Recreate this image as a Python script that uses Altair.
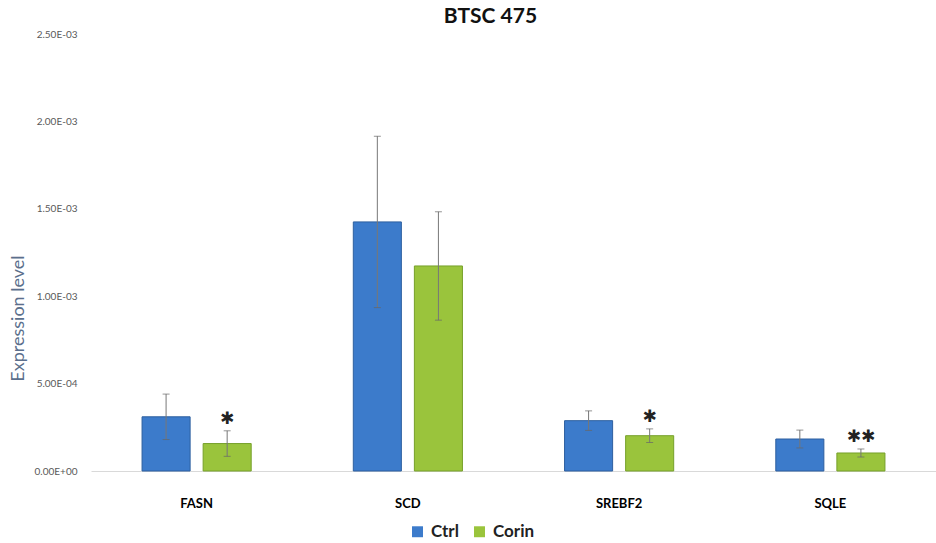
import altair as alt
import pandas as pd

# Expression data per gene (mean and error) for each condition
genes = ["FASN", "SCD", "SREBF2", "SQLE"]
groups = ["Ctrl", "Corin"]
ctrl_mean = [3.10e-4, 1.425e-3, 2.88e-4, 1.83e-4]
ctrl_err = [1.30e-4, 4.90e-4, 5.6e-5, 5.1e-5]
corin_mean = [1.57e-4, 1.173e-3, 2.02e-4, 1.03e-4]
corin_err = [7.3e-5, 3.10e-4, 3.9e-5, 2.3e-5]
corin_sig = ["\u2731", "", "\u2731", "\u2731\u2731"]
tick_labels = ["0.00E+00", "5.00E-04", "1.00E-03", "1.50E-03", "2.00E-03", "2.50E-03"]

rows = []
for i, g in enumerate(genes):
    rows.append({"gene": g, "group": "Ctrl", "mean": ctrl_mean[i], "err": ctrl_err[i], "sig": ""})
    rows.append({"gene": g, "group": "Corin", "mean": corin_mean[i], "err": corin_err[i], "sig": corin_sig[i]})
df = pd.DataFrame(rows)
df["lo"] = df["mean"] - df["err"]
df["hi"] = df["mean"] + df["err"]

label_expr = "[" + ",".join("'%s'" % t for t in tick_labels) + "][round(datum.value / 0.0005)]"

x_enc = alt.X("gene:N", sort=genes,
              scale=alt.Scale(paddingInner=0, paddingOuter=0),
              axis=alt.Axis(title=None, labelAngle=0, ticks=False, grid=False,
                            labelFont="Lato", labelFontWeight="bold", labelFontSize=13,
                            labelColor="#000000", labelPadding=26,
                            domainColor="#d9d9d9", domainWidth=1))
x_plain = alt.X("gene:N", sort=genes)
xo_enc = alt.XOffset("group:N", sort=groups,
                     scale=alt.Scale(paddingInner=0.213, paddingOuter=0.836))
y_scale = alt.Scale(domain=[0, 0.0025], nice=False)

bars = alt.Chart(df).mark_bar(strokeWidth=1).encode(
    x=x_enc,
    xOffset=xo_enc,
    y=alt.Y("mean:Q", scale=y_scale,
            axis=alt.Axis(title="Expression level", values=[0, 0.0005, 0.001, 0.0015, 0.002, 0.0025],
                          labelExpr=label_expr, grid=False, domain=False, ticks=False,
                          labelFont="Lato", labelFontSize=10, labelColor="#595959", labelPadding=14,
                          titleFont="Lato", titleFontSize=18, titleFontWeight="normal",
                          titleColor="#5b6f8c", titleX=-73, titleY=284, titleAngle=-90,
                          titleAlign="center", titleBaseline="middle")),
    color=alt.Color("group:N", sort=groups,
                    scale=alt.Scale(domain=groups, range=["#3c7bcb", "#9ac43c"]),
                    legend=alt.Legend(title=None, orient="none", direction="horizontal",
                                      legendX=318, legendY=489, symbolType="square",
                                      symbolSize=120, symbolStrokeWidth=0,
                                      labelFont="Lato", labelFontWeight="bold", labelFontSize=17,
                                      labelColor="#222222", columnPadding=12, labelOffset=5)),
    stroke=alt.Stroke("group:N", sort=groups,
                      scale=alt.Scale(domain=groups, range=["#2d5f9f", "#76a02a"]), legend=None),
)

err_rule = alt.Chart(df).mark_rule(color="#777777", strokeWidth=1).encode(
    x=x_plain, xOffset=xo_enc,
    y=alt.Y("lo:Q", scale=y_scale), y2="hi:Q",
)
cap_hi = alt.Chart(df).mark_tick(color="#666666", thickness=1, size=7).encode(
    x=x_plain, xOffset=xo_enc, y=alt.Y("hi:Q", scale=y_scale),
)
cap_lo = alt.Chart(df).mark_tick(color="#666666", thickness=1, size=7).encode(
    x=x_plain, xOffset=xo_enc, y=alt.Y("lo:Q", scale=y_scale),
)
stars = alt.Chart(df).mark_text(font="DejaVu Sans", fontSize=17, fontWeight="bold",
                                color="#222222", baseline="bottom", dy=-3).encode(
    x=x_plain, xOffset=xo_enc, y=alt.Y("hi:Q", scale=y_scale),
    text="sig:N",
)

chart = alt.layer(bars, err_rule, cap_hi, cap_lo, stars).properties(
    width=845, height=437,
    title=alt.TitleParams("BTSC 475", font="Lato", fontSize=21, fontWeight="bold",
                          color="#111111", offset=2, dx=-23, anchor="middle"),
    padding={"left": 91, "top": 34, "right": 0, "bottom": 72},
    autosize=alt.AutoSizeParams(type="none"),
).configure(background="white").configure_view(stroke="transparent", strokeWidth=0).configure_axisY(
    domain=False, ticks=False, grid=False).configure_axisX(grid=False)

chart.save("out.html", embed_options={"renderer": "svg", "actions": False})
